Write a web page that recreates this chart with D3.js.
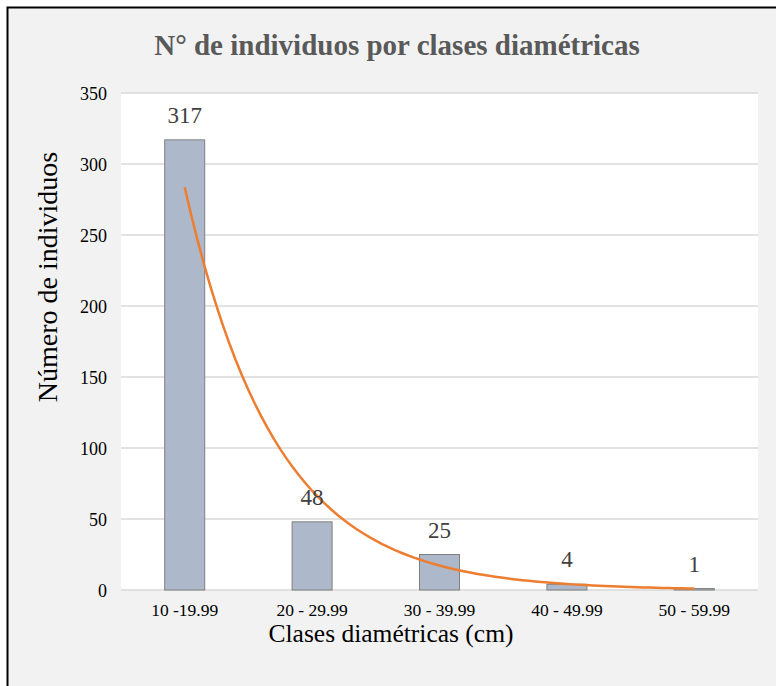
<!DOCTYPE html>
<html>
<head>
<meta charset="utf-8">
<script src="https://cdn.jsdelivr.net/npm/d3@7"></script>
<style>
  html, body { margin: 0; padding: 0; background: #ffffff; }
  svg { display: block; }
</style>
</head>
<body>
<svg id="chart" width="776" height="686"></svg>
<script>
// ---- Data ----
const categories = ["10 -19.99", "20 - 29.99", "30 - 39.99", "40 - 49.99", "50 - 59.99"];
const values = [317, 48, 25, 4, 1];
const yTicks = [0, 50, 100, 150, 200, 250, 300, 350];
const titleText = "N° de individuos por clases diamétricas";
const xTitleText = "Clases diamétricas (cm)";
const yTitleText = "Número de individuos";

// ---- Layout ----
const W = 776, H = 686;
const plot = { left: 121, right: 758, top: 93, bottom: 590 };
const serif = "'Liberation Serif', 'Times New Roman', serif";

const svg = d3.select("#chart");

// outer background + frame
svg.append("rect").attr("x", 0).attr("y", 0).attr("width", W).attr("height", H).attr("fill", "#ffffff");
svg.append("rect").attr("x", 7.5).attr("y", 7.5).attr("width", W + 20).attr("height", H + 20)
  .attr("fill", "#f2f2f2").attr("stroke", "#000").attr("stroke-width", 2);

// plot background
svg.append("rect").attr("x", plot.left).attr("y", plot.top)
  .attr("width", plot.right - plot.left).attr("height", plot.bottom - plot.top)
  .attr("fill", "#ffffff");

// scales
const x = d3.scaleBand().domain(categories).range([plot.left, plot.right]).paddingInner(0).paddingOuter(0);
const y = d3.scaleLinear().domain([0, 350]).range([plot.bottom, plot.top]);
const barW = x.bandwidth() * 0.314;

// gridlines
svg.append("g").selectAll("line").data(yTicks).join("line")
  .attr("x1", plot.left).attr("x2", plot.right)
  .attr("y1", d => y(d)).attr("y2", d => y(d))
  .attr("stroke", "#d9d9d9").attr("stroke-width", 1.5);

// y axis labels
const yAxis = d3.axisLeft(y).tickValues(yTicks).tickSize(0).tickPadding(0).tickFormat(d3.format("d"));
const gy = svg.append("g").attr("transform", `translate(${plot.left - 14},0)`).call(yAxis);
gy.select(".domain").remove();
gy.selectAll("text").attr("font-family", serif).attr("font-size", 18).attr("fill", "#000")
  .attr("dy", "0.34em");

// x axis labels
const xAxis = d3.axisBottom(x).tickSize(0).tickPadding(0);
const gx = svg.append("g").attr("transform", `translate(0,${plot.bottom + 26})`).call(xAxis);
gx.select(".domain").remove();
gx.selectAll("text").attr("font-family", serif).attr("font-size", 17.5).attr("fill", "#000").attr("dy", 0);

// bars
svg.append("g").selectAll("rect").data(values).join("rect")
  .attr("x", (d, i) => x(categories[i]) + x.bandwidth() / 2 - barW / 2)
  .attr("y", d => y(d))
  .attr("width", barW)
  .attr("height", d => y(0) - y(d))
  .attr("fill", "#adb9ca").attr("stroke", "#7f7f7f").attr("stroke-width", 1);

// exponential trendline (least squares fit on ln(y), as in a spreadsheet trendline)
const xs = values.map((d, i) => i + 1);
const lys = values.map(d => Math.log(d));
const mx = d3.mean(xs), my = d3.mean(lys);
const b = d3.sum(xs, (xi, i) => (xi - mx) * (lys[i] - my)) / d3.sum(xs, xi => (xi - mx) ** 2);
const a = my - b * mx;
const xIdx = d3.scaleLinear().domain([1, categories.length])
  .range([x(categories[0]) + x.bandwidth() / 2, x(categories[categories.length - 1]) + x.bandwidth() / 2]);
const trendPts = d3.range(1, categories.length + 0.001, 0.05).map(t => [t, Math.exp(a + b * t)]);
svg.append("path").datum(trendPts)
  .attr("d", d3.line().x(d => xIdx(d[0])).y(d => y(d[1])))
  .attr("fill", "none").attr("stroke", "#ed7d31").attr("stroke-width", 2.5);

// data labels
svg.append("g").selectAll("text").data(values).join("text")
  .attr("x", (d, i) => x(categories[i]) + x.bandwidth() / 2)
  .attr("y", d => y(d) - 17)
  .attr("text-anchor", "middle")
  .attr("font-family", serif).attr("font-size", 23).attr("fill", "#404040")
  .text(d => d);

// title
svg.append("text").attr("x", 397).attr("y", 55).attr("text-anchor", "middle")
  .attr("font-family", serif).attr("font-size", 29).attr("font-weight", "bold").attr("fill", "#595959")
  .text(titleText);

// x axis title
svg.append("text").attr("x", 391).attr("y", 642).attr("text-anchor", "middle")
  .attr("font-family", serif).attr("font-size", 25.5).attr("fill", "#000")
  .text(xTitleText);

// y axis title
svg.append("text").attr("transform", `translate(57,277) rotate(-90)`)
  .attr("text-anchor", "middle")
  .attr("font-family", serif).attr("font-size", 28).attr("fill", "#000")
  .text(yTitleText);
</script>
</body>
</html>
